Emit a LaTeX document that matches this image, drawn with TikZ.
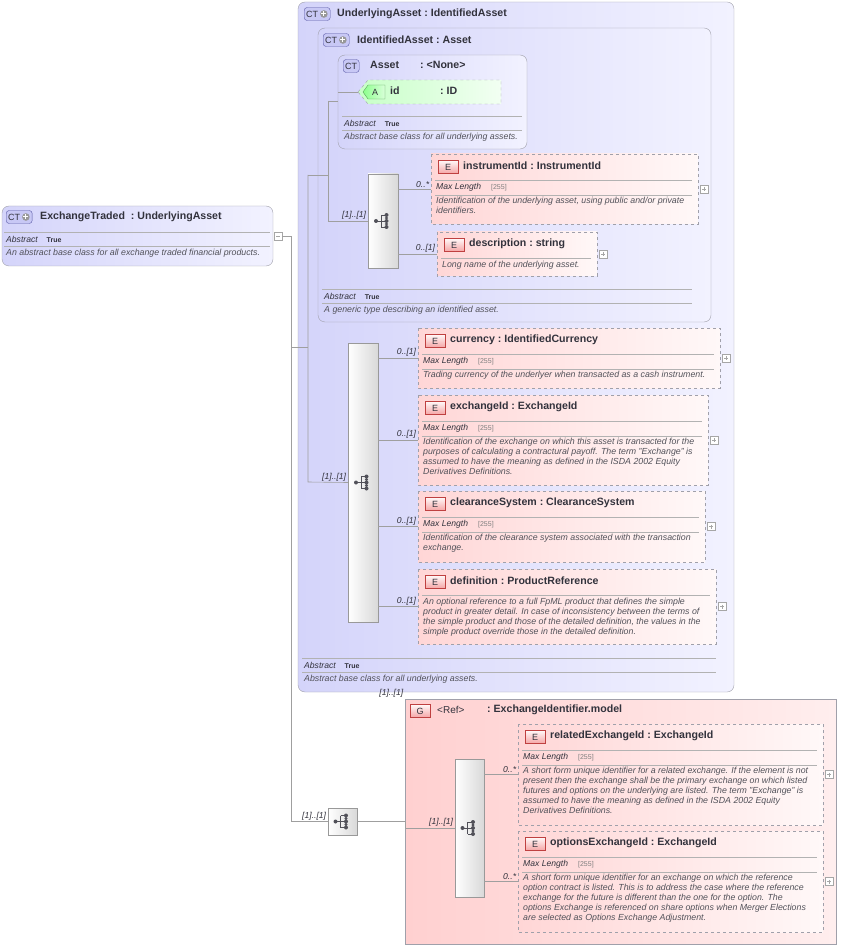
\documentclass[tikz,border=0pt]{standalone}
\usepackage{fontspec}
\setmainfont{Liberation Sans}
\usetikzlibrary{fit,calc}
\definecolor{lavL}{RGB}{212,212,250}
\definecolor{lavR}{RGB}{242,242,255}
\definecolor{pinkL}{RGB}{255,214,214}
\definecolor{pinkR}{RGB}{255,248,248}
\definecolor{grpL}{RGB}{255,208,208}
\definecolor{grpR}{RGB}{255,238,238}
\definecolor{bord}{RGB}{160,160,170}
\definecolor{txt}{RGB}{50,50,60}
\definecolor{ctbadge}{RGB}{200,200,245}
\definecolor{ebadgeL}{RGB}{245,165,165}
\tikzset{
 x=1pt,y=-1pt,
 ctfill/.style={rounded corners=7pt,left color=lavL,right color=lavR,draw=bord},
 elemfill/.style={left color=pinkL,right color=pinkR,draw=bord,dashed},
 grpfill/.style={left color=grpL,right color=grpR,draw=bord},
 seqfill/.style={left color=white,right color=gray!30,draw=gray!80},
 conn/.style={draw=gray!75,line width=0.6pt},
 sepline/.style={draw=gray!60,line width=0.5pt},
 titletxt/.style={font=\fontsize{10.6}{12}\selectfont\bfseries,text=txt,inner sep=0pt},
 mltxt/.style={font=\fontsize{8.6}{10}\selectfont\itshape,text=txt,anchor=west,inner sep=0pt},
 desctxt/.style={font=\fontsize{8.8}{9.9}\selectfont\itshape,text=txt!85,anchor=north west,align=left,inner sep=0pt},
 mult/.style={font=\fontsize{8.6}{10}\selectfont\itshape,text=txt,inner sep=1.5pt},
 ebadge/.style={minimum width=20pt,minimum height=13pt,inner sep=0pt,top color=pinkR,bottom color=ebadgeL,draw=red!50!gray,font=\fontsize{9}{9}\selectfont,text=txt},
 ctbadgest/.style={rounded corners=3pt,minimum height=13pt,inner sep=2pt,fill=ctbadge,draw=blue!30!gray,font=\fontsize{9}{9}\selectfont,text=txt,anchor=west},
 plusbox/.style={draw=gray!70,line width=0.4pt,fill=white},
}
\newcommand\EBox[8]{%
 \path[elemfill] (#2,#3) rectangle (#4,#5);
 \path (#2,#3) coordinate (#1-a) (#4,#5) coordinate (#1-b);
 \node[fit=(#1-a)(#1-b),inner sep=0pt] (#1) {};
 \node[ebadge] (#1-bd) at (#2+17,#3+13) {E};
 \node[titletxt,anchor=west] (#1-tt) at (#2+32,#3+12) {#6};
 \draw[sepline] (#2+4,#3+26) -- (#4-6,#3+26);
 \ifnum#8=1
  \node[mltxt] (#1-ml) at (#2+5,#3+33) {Max Length\hspace{10pt}{\upshape\fontsize{7}{8}\selectfont\color{gray}[255]}};
  \draw[sepline] (#2+4,#3+41) -- (#4-6,#3+41);
  \node[desctxt] (#1-d) at (#2+5,#3+43) {#7};
 \else
  \node[desctxt] (#1-d) at (#2+5,#3+29) {#7};
 \fi
 \pgfmathsetmacro\ymid{(#3+#5)/2}
 \draw[plusbox] (#4+2,\ymid-4) rectangle (#4+10,\ymid+4);
 \draw[gray!70,line width=0.4pt] (#4+4,\ymid) -- (#4+8,\ymid) (#4+6,\ymid-2) -- (#4+6,\ymid+2);
}
\newcommand\SBox[5]{%
 \path[seqfill] (#2,#3) rectangle (#4,#5);
 \path (#2,#3) coordinate (#1-a) (#4,#5) coordinate (#1-b);
 \node[fit=(#1-a)(#1-b),inner sep=0pt] (#1) {};
 \pgfmathsetmacro\cx{(#2+#4)/2}\pgfmathsetmacro\cy{(#3+#5)/2}
 \draw[txt!85,line width=0.8pt] (\cx-7,\cy) -- (\cx-2,\cy) (\cx-2,\cy-6) -- (\cx-2,\cy+6)
   (\cx-2,\cy-6) -- (\cx+3,\cy-6) (\cx-2,\cy+6) -- (\cx+3,\cy+6) (\cx-2,\cy) -- (\cx+3,\cy);
 \fill[txt!85] (\cx-7,\cy) circle (2) (\cx+3.5,\cy-6) circle (2) (\cx+3.5,\cy) circle (2) (\cx+3.5,\cy+6) circle (2) (\cx+3.5,\cy-3) circle (1.7) (\cx+3.5,\cy+3) circle (1.7);
}
\newcommand\CTB[4]{% name, x, y, plus
 \ifnum#4=1
  \node[ctbadgest] (#1) at (#2,#3) {CT\kern10pt};
  \fill[gray!80] ($(#1.east)+(-6.5,0)$) circle (3.8);
  \draw[white,line width=1pt] ($(#1.east)+(-9,0)$) -- ($(#1.east)+(-4,0)$) ($(#1.east)+(-6.5,-2.5)$) -- ($(#1.east)+(-6.5,2.5)$);
 \else
  \node[ctbadgest] (#1) at (#2,#3) {CT};
 \fi
}
\newcommand\AbsRow[5]{% x1, x2, yline1, name, desc
 \draw[sepline] (#1,#3) -- (#2,#3);
 \node[mltxt] at (#1+2,#3+7) {Abstract\hspace{9pt}{\upshape\bfseries\fontsize{7}{8}\selectfont True}};
 \draw[sepline] (#1,#3+14) -- (#2,#3+14);
 \node[desctxt,anchor=west] (#4) at (#1+2,#3+21) {#5};
}
\begin{document}
\begin{tikzpicture}
\useasboundingbox (0,0) rectangle (842,949);
% ExchangeTraded
\path[ctfill] (2,206) rectangle (273,266);
\path (2,206) coordinate (et-a) (273,266) coordinate (et-b);
\node[fit=(et-a)(et-b),inner sep=0pt] (et) {};
\CTB{etb}{6}{217}{1}
\node[titletxt,anchor=west] (ett) at (40,217) {ExchangeTraded\ \ :\ UnderlyingAsset};
\AbsRow{4}{270}{232}{etd}{An abstract base class for all exchange traded financial products.}
\node[draw=gray!70,fill=white,minimum size=8pt,inner sep=0pt,line width=0.4pt] (etm) at (278,236) {};
\draw[gray!70,line width=0.4pt] (276,236) -- (280,236);

% UnderlyingAsset
\path[ctfill] (298,2) rectangle (734,692);
\path (298,2) coordinate (ua-a) (734,692) coordinate (ua-b);
\node[fit=(ua-a)(ua-b),inner sep=0pt] (ua) {};
\CTB{uab}{304}{14}{1}
\node[titletxt,anchor=west] at (337,14) {UnderlyingAsset\ :\ IdentifiedAsset};
\AbsRow{302}{716}{658}{uad}{Abstract base class for all underlying assets.}

% IdentifiedAsset
\path[ctfill] (318,28) rectangle (711,322);
\path (318,28) coordinate (ia-a) (711,322) coordinate (ia-b);
\node[fit=(ia-a)(ia-b),inner sep=0pt] (ia) {};
\CTB{iab}{323}{40}{1}
\node[titletxt,anchor=west] at (357,40) {IdentifiedAsset\ :\ Asset};
\AbsRow{322}{692}{289}{iad}{A generic type describing an identified asset.}

% Asset
\path[ctfill] (338,55) rectangle (527,149);
\path (338,55) coordinate (as-a) (527,149) coordinate (as-b);
\node[fit=(as-a)(as-b),inner sep=0pt] (as) {};
\CTB{asb}{343}{66}{0}
\node[titletxt,anchor=west] at (370,65) {Asset};
\node[titletxt,anchor=west] at (420,65) {:\ <None>};
\AbsRow{342}{522}{116}{asd}{Abstract base class for all underlying assets.}

% attribute id
\path[left color=green!22,right color=green!5,draw=bord,dashed] (358,92) -- (368,80) -- (501,80) -- (501,104) -- (368,104) -- cycle;
\coordinate (idp) at (358,92);
\path[left color=green!45,right color=green!15,draw=green!30!gray] (363,92) -- (368,85) -- (385,85) -- (385,99) -- (368,99) -- cycle;
\node[font=\fontsize{9}{9}\selectfont,text=txt,inner sep=0pt] (ida) at (375,92) {A};
\node[titletxt,anchor=west] at (390,91) {id};
\node[titletxt,anchor=west] at (440,91) {:\ ID};

% sequences
\SBox{s1}{368}{174}{398}{268}
\SBox{s2}{348}{343}{378}{622}
\SBox{s3}{328}{808}{357}{835}

% elements
\EBox{inst}{431}{154}{698}{224}{instrumentId\ :\ InstrumentId}{Identification of the underlying asset, using public and/or private\\identifiers.}{1}
\EBox{descr}{437}{232}{597}{276}{description\ :\ string}{Long name of the underlying asset.}{0}
\EBox{cur}{418}{328}{720}{388}{currency\ :\ IdentifiedCurrency}{Trading currency of the underlyer when transacted as a cash instrument.}{1}
\EBox{exid}{418}{395}{708}{485}{exchangeId\ :\ ExchangeId}{Identification of the exchange on which this asset is transacted for the\\purposes of calculating a contractural payoff. The term "Exchange" is\\assumed to have the meaning as defined in the ISDA 2002 Equity\\Derivatives Definitions.}{1}
\EBox{clr}{418}{491}{705}{562}{clearanceSystem\ :\ ClearanceSystem}{Identification of the clearance system associated with the transaction\\exchange.}{1}
\EBox{def}{418}{569}{716}{644}{definition\ :\ ProductReference}{An optional reference to a full FpML product that defines the simple\\product in greater detail. In case of inconsistency between the terms of\\the simple product and those of the detailed definition, the values in the\\simple product override those in the detailed definition.}{0}

% group
\path[grpfill] (405,699) rectangle (836,944);
\path (405,699) coordinate (g-a) (836,944) coordinate (g-b);
\node[fit=(g-a)(g-b),inner sep=0pt] (grp) {};
\node[ebadge] (gb) at (420,711) {G};
\node[titletxt,anchor=west,font=\fontsize{10}{11}\selectfont] at (437,710) {<Ref>};
\node[titletxt,anchor=west] at (487,710) {:\ ExchangeIdentifier.model};
\node[mult,anchor=south east] at (g-a) {[1]..[1]};
\SBox{s4}{455}{759}{484}{897}
\EBox{rel}{518}{724}{823}{825}{relatedExchangeId\ :\ ExchangeId}{A short form unique identifier for a related exchange. If the element is not\\present then the exchange shall be the primary exchange on which listed\\futures and options on the underlying are listed. The term "Exchange" is\\assumed to have the meaning as defined in the ISDA 2002 Equity\\Derivatives Definitions.}{1}
\EBox{opt}{518}{831}{823}{932}{optionsExchangeId\ :\ ExchangeId}{A short form unique identifier for an exchange on which the reference\\option contract is listed. This is to address the case where the reference\\exchange for the future is different than the one for the option. The\\options Exchange is referenced on share options when Merger Elections\\are selected as Options Exchange Adjustment.}{1}

% connectors
\coordinate (j0) at (291,236);
\coordinate (j1) at (291,347);
\coordinate (j2) at (308,347);
\coordinate (j3) at (308,175);
\coordinate (j4) at (328,175);
\coordinate (j5) at (328,101);
\coordinate (j6) at (328,221);
\coordinate (j7) at (308,482);
\coordinate (j8) at (291,821.5);
\draw[conn] (etm.east) -- (j0) -- (j8) -- (s3.west);
\draw[conn] (j1) -- (j2);
\draw[conn] (j3) -- (j7) -- (s2.west);
\draw[conn] (j3) -- (j4);
\draw[conn] (j5) -- (j6) -- (s1.west);
\draw[conn] (j5) -- (as.west |- j5);
\draw[conn] (as.west |- idp) -- (idp);
\node[mult,anchor=south east] at (s1.west) {[1]..[1]};
\node[mult,anchor=south east] at (s2.west) {[1]..[1]};
\node[mult,anchor=south east] at (s3.west) {[1]..[1]};
\foreach \e/\s/\m in {inst/s1/0..*, descr/s1/0..[1], cur/s2/0..[1], exid/s2/0..[1], clr/s2/0..[1], def/s2/0..[1], rel/s4/0..*, opt/s4/0..*}{
  \draw[conn] (\s.east |- \e.west) -- (\e.west);
  \node[mult,anchor=south east] at (\e.west) {\m};
}
\draw[conn] (s3.east) -- (grp.west |- s3.east) |- (s4.west);
\node[mult,anchor=south east] at (s4.west) {[1]..[1]};
\end{tikzpicture}
\end{document}
